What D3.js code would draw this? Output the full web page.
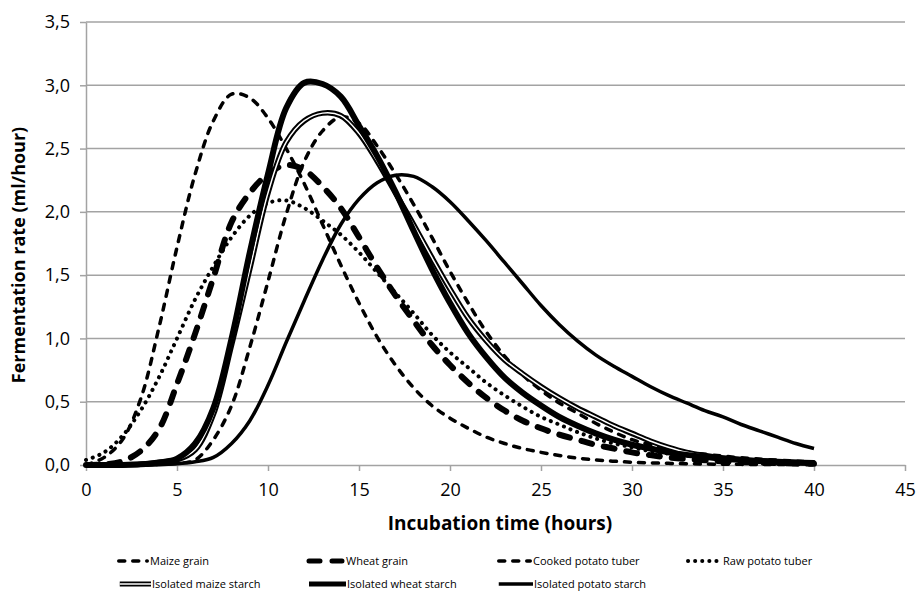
<!DOCTYPE html>
<html>
<head>
<meta charset="utf-8">
<script src="https://cdn.jsdelivr.net/npm/d3@7"></script>
<style>
  html, body { margin: 0; padding: 0; background: #fff; }
  svg { display: block; }
  text { font-family: "Open Sans", "Liberation Sans", sans-serif; fill: #000; }
</style>
</head>
<body>
<svg id="chart" width="916" height="593"></svg>
<script>
// ---------------- DATA ----------------
const hours = d3.range(0, 41); // 0..40 h
const xTicks = [0, 5, 10, 15, 20, 25, 30, 35, 40, 45];
const yTicks = [0, 0.5, 1.0, 1.5, 2.0, 2.5, 3.0, 3.5];
const xTitle = "Incubation time (hours)";
const yTitle = "Fermentation rate (ml/hour)";

const seriesNames = ["Maize grain", "Wheat grain", "Cooked potato tuber", "Raw potato tuber",
  "Isolated maize starch", "Isolated wheat starch", "Isolated potato starch"];

const maizeGrain = [0.0, 0.06, 0.2, 0.52, 1.08, 1.72, 2.3, 2.72, 2.93, 2.9, 2.74, 2.5, 2.22, 1.9, 1.58,
  1.28, 1.01, 0.79, 0.61, 0.47, 0.37, 0.29, 0.22, 0.17, 0.13, 0.1, 0.075, 0.055, 0.04, 0.03, 0.022,
  0.017, 0.013, 0.01, 0.008, 0.006, 0.005, 0.004, 0.003, 0.003, 0.002];
const wheatGrain = [0.0, 0.005, 0.03, 0.11, 0.28, 0.64, 1.04, 1.48, 1.92, 2.15, 2.3, 2.37, 2.33, 2.2, 2.03,
  1.8, 1.56, 1.34, 1.14, 0.95, 0.79, 0.65, 0.53, 0.43, 0.35, 0.29, 0.24, 0.2, 0.16, 0.13, 0.1,
  0.078, 0.06, 0.047, 0.037, 0.03, 0.024, 0.019, 0.015, 0.012, 0.01];
const cookedPotato = [0.0, 0.0, 0.0, 0.002, 0.005, 0.012, 0.04, 0.2, 0.47, 0.93, 1.45, 1.98, 2.4, 2.64, 2.75,
  2.7, 2.52, 2.3, 2.06, 1.8, 1.53, 1.28, 1.05, 0.86, 0.71, 0.59, 0.49, 0.41, 0.33, 0.26, 0.2,
  0.16, 0.13, 0.1, 0.085, 0.07, 0.057, 0.047, 0.038, 0.031, 0.025];
const rawPotato = [0.04, 0.1, 0.23, 0.43, 0.69, 1.0, 1.31, 1.57, 1.8, 1.97, 2.07, 2.09, 2.03, 1.93, 1.82,
  1.68, 1.52, 1.36, 1.2, 1.03, 0.89, 0.77, 0.65, 0.55, 0.46, 0.38, 0.32, 0.26, 0.21, 0.17, 0.14,
  0.11, 0.09, 0.075, 0.06, 0.05, 0.04, 0.033, 0.027, 0.022, 0.018];
const maizeStarch = [0.0, 0.0, 0.0, 0.005, 0.02, 0.04, 0.12, 0.4, 0.95, 1.55, 2.15, 2.55, 2.72, 2.78, 2.76,
  2.62, 2.4, 2.15, 1.9, 1.64, 1.39, 1.16, 0.98, 0.83, 0.72, 0.62, 0.53, 0.45, 0.38, 0.31, 0.25,
  0.19, 0.14, 0.1, 0.075, 0.055, 0.042, 0.032, 0.025, 0.02, 0.017];
const wheatStarch = [0.0, 0.0, 0.0, 0.005, 0.02, 0.05, 0.17, 0.45, 1.0, 1.68, 2.3, 2.82, 3.02, 3.01, 2.91,
  2.68, 2.44, 2.16, 1.85, 1.55, 1.28, 1.04, 0.85, 0.69, 0.57, 0.47, 0.38, 0.31, 0.25, 0.2, 0.16,
  0.13, 0.1, 0.08, 0.065, 0.05, 0.04, 0.032, 0.025, 0.02, 0.016];
const potatoStarch = [0.0, 0.0, 0.0, 0.0, 0.002, 0.01, 0.025, 0.06, 0.17, 0.35, 0.63, 0.97, 1.3, 1.62, 1.9,
  2.1, 2.23, 2.29, 2.28, 2.2, 2.08, 1.93, 1.77, 1.6, 1.43, 1.26, 1.11, 0.98, 0.87, 0.78, 0.7,
  0.62, 0.55, 0.49, 0.43, 0.38, 0.32, 0.27, 0.22, 0.17, 0.13];

const seriesValues = [maizeGrain, wheatGrain, cookedPotato, rawPotato, maizeStarch, wheatStarch, potatoStarch];

// ---------------- STYLES ----------------
const styles = [
  { w: 3.5, dash: "6,8", cap: "round" },
  { w: 6, dash: "11,12", cap: "round" },
  { w: 3.5, dash: "6,8", cap: "round" },
  { w: 4, dash: "0.1,7", cap: "round" },
  { w: 5.5, dash: null, cap: "butt", inner: 1.5 },
  { w: 6, dash: null, cap: "butt" },
  { w: 3.5, dash: null, cap: "butt" }
];

// ---------------- LAYOUT ----------------
const svg = d3.select("#chart");
const plot = { left: 86, right: 905, top: 22, bottom: 465 };
const x = d3.scaleLinear().domain([0, 45]).range([plot.left, plot.right]);
const y = d3.scaleLinear().domain([0, 3.5]).range([plot.bottom, plot.top]);
const gridColor = "#a3a3a3";
const fmt = d => d3.format(".1f")(d).replace(".", ",");

// gridlines
svg.append("g").selectAll("line").data(yTicks.filter(d => d > 0)).join("line")
  .attr("x1", plot.left).attr("x2", plot.right)
  .attr("y1", d => y(d)).attr("y2", d => y(d))
  .attr("stroke", gridColor).attr("stroke-width", 1.5);

// y axis
const yAxis = svg.append("g").attr("transform", `translate(${plot.left},0)`)
  .call(d3.axisLeft(y).tickValues(yTicks).tickFormat(fmt).tickSize(6).tickSizeOuter(0).tickPadding(10));
yAxis.select(".domain").attr("stroke", gridColor).attr("stroke-width", 1.5);
yAxis.selectAll(".tick line").attr("stroke", gridColor).attr("stroke-width", 1.5);
yAxis.selectAll("text").style("font-size", "18px").style("font-family", "'Open Sans', sans-serif").attr("fill", "#000");

// x axis
const xAxis = svg.append("g").attr("transform", `translate(0,${plot.bottom})`)
  .call(d3.axisBottom(x).tickValues(xTicks).tickFormat(d3.format("d")).tickSize(6).tickSizeOuter(0).tickPadding(12));
xAxis.select(".domain").attr("stroke", gridColor).attr("stroke-width", 1.5);
xAxis.selectAll(".tick line").attr("stroke", gridColor).attr("stroke-width", 1.5);
xAxis.selectAll("text").style("font-size", "18px").style("font-family", "'Open Sans', sans-serif").attr("fill", "#000");

// titles
svg.append("text").attr("x", 500).attr("y", 530)
  .attr("text-anchor", "middle").style("font-size", "19px").style("font-weight", "bold").text(xTitle);
svg.append("text").attr("transform", `translate(25,255) rotate(-90)`)
  .attr("text-anchor", "middle").style("font-size", "18px").style("font-weight", "bold").text(yTitle);

// lines
const line = d3.line().x((d, i) => x(hours[i])).y(d => y(Math.max(0, d))).curve(d3.curveCatmullRom.alpha(0.5));
const gLines = svg.append("g");
seriesValues.forEach((vals, k) => {
  const s = styles[k];
  const p = gLines.append("path").attr("d", line(vals)).attr("fill", "none")
    .attr("stroke", "#000").attr("stroke-width", s.w)
    .attr("stroke-linecap", s.cap).attr("stroke-linejoin", "round");
  if (s.dash) p.attr("stroke-dasharray", s.dash);
  if (s.inner) {
    gLines.append("path").attr("d", line(vals)).attr("fill", "none")
      .attr("stroke", "#fff").attr("stroke-width", s.inner);
  }
});

// legend
const legendPos = [
  { sx: 117, tx: 150, y: 561 }, { sx: 306, tx: 346, y: 561 }, { sx: 497, tx: 533, y: 561 }, { sx: 686, tx: 723, y: 561 },
  { sx: 117, tx: 152, y: 584 }, { sx: 306, tx: 347, y: 584 }, { sx: 497, tx: 534, y: 584 }
];
const gLeg = svg.append("g");
seriesNames.forEach((name, k) => {
  const s = styles[k], p = legendPos[k];
  const l = gLeg.append("line").attr("x1", p.sx + s.w / 2).attr("x2", p.tx - 1 - (s.cap === "round" ? s.w / 2 : 0))
    .attr("y1", p.y).attr("y2", p.y)
    .attr("stroke", "#000").attr("stroke-width", Math.min(s.w, 5)).attr("stroke-linecap", s.cap);
  if (s.dash) l.attr("stroke-dasharray", s.dash);
  if (s.inner) {
    gLeg.append("line").attr("x1", p.sx + s.w / 2).attr("x2", p.tx - 1)
      .attr("y1", p.y).attr("y2", p.y).attr("stroke", "#fff").attr("stroke-width", s.inner);
  }
  gLeg.append("text").attr("x", p.tx).attr("y", p.y + 4).style("font-size", "11px").text(name);
});
</script>
</body>
</html>
